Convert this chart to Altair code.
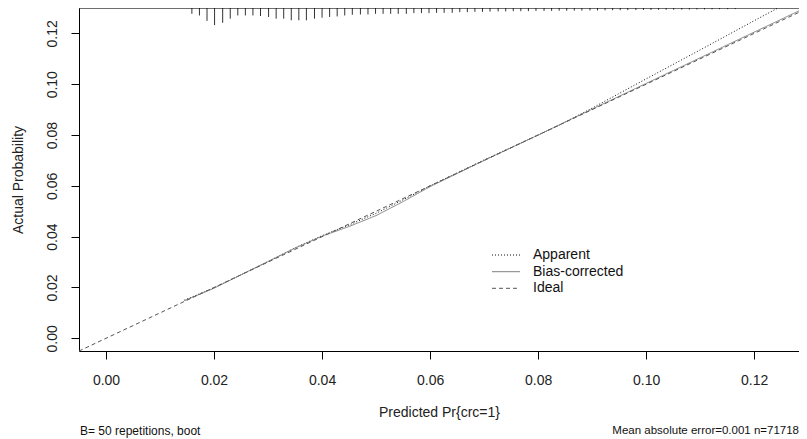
import altair as alt
import pandas as pd

# ---- data ----
ideal_x = [-0.005, 0.13]
ideal_y = [-0.005, 0.13]

apparent_x = [0.0145, 0.02, 0.025, 0.03, 0.035, 0.04, 0.045, 0.05, 0.055, 0.06, 0.07, 0.08, 0.084, 0.09, 0.10, 0.11, 0.12, 0.1244]
apparent_y = [0.0150, 0.0199, 0.0250, 0.0302, 0.0356, 0.0404, 0.0446, 0.0492, 0.0545, 0.0600, 0.0702, 0.0800, 0.0840, 0.0906, 0.1021, 0.1135, 0.1250, 0.1300]

bias_x = [0.0145, 0.02, 0.025, 0.03, 0.035, 0.04, 0.045, 0.05, 0.055, 0.06, 0.07, 0.08, 0.09, 0.10, 0.11, 0.12, 0.13]
bias_y = [0.0148, 0.0197, 0.0250, 0.0302, 0.0355, 0.0402, 0.0440, 0.0483, 0.0538, 0.0597, 0.0700, 0.0800, 0.0902, 0.1003, 0.1104, 0.1205, 0.1306]

spike_x = [0.0159, 0.0173, 0.0187, 0.0201, 0.0216, 0.0230, 0.0244, 0.0258, 0.0272, 0.0286,
           0.0301, 0.0315, 0.0329, 0.0343, 0.0357, 0.0371, 0.0386, 0.0400, 0.0414, 0.0428,
           0.0442, 0.0456, 0.0471, 0.0485, 0.0499, 0.0513, 0.0527, 0.0541, 0.0556, 0.0570,
           0.0584, 0.0598, 0.0612, 0.0626, 0.0641, 0.0655, 0.0669, 0.0683, 0.0697, 0.0711,
           0.0726, 0.0740, 0.0754, 0.0768, 0.0782, 0.0796, 0.0811, 0.0825, 0.0839, 0.0853,
           0.0867, 0.0881, 0.0896, 0.0910, 0.0924, 0.0938, 0.0952, 0.0966, 0.0981, 0.0995,
           0.1009, 0.1023, 0.1037, 0.1051, 0.1066, 0.1080, 0.1094, 0.1108, 0.1122, 0.1136,
           0.1151, 0.1165]
spike_freq = [6, 7.7, 13.3, 17.7, 15.3, 11, 7.7, 7.7, 7.7, 8.3,
              9.3, 11, 11, 12.7, 12.7, 12.7, 11, 10, 9.3, 8.7,
              7.7, 7, 6.7, 6.7, 6, 6, 6, 6, 6, 5.3,
              5.3, 5.3, 5, 5, 5, 4.3, 4.3, 4, 4, 3.7,
              3.5, 3.5, 3.3, 3.3, 3.2, 3, 3, 3, 2.8, 2.8,
              2.7, 2.7, 2.5, 2.5, 2.4, 2.3, 2.3, 2.2, 2.1, 2.0,
              2.0, 1.9, 1.8, 1.8, 1.7, 1.6, 1.5, 1.5, 1.4, 1.3,
              1.2, 1.1]

series_names = ["Apparent", "Bias-corrected", "Ideal"]
series_colors = ["#111111", "#808080", "#555555"]
series_dash = [[1, 2], [1, 0], [4, 3]]
x_ticks = [0.00, 0.02, 0.04, 0.06, 0.08, 0.10, 0.12]
y_ticks = [0.00, 0.02, 0.04, 0.06, 0.08, 0.10, 0.12]
x_title = "Predicted Pr{crc=1}"
y_title = "Actual Probability"
note_left = "B= 50 repetitions, boot"
note_right = "Mean absolute error=0.001 n=71718"

X_DOMAIN = [-0.005, 0.1283]
Y_DOMAIN = [-0.005, 0.13]
W, H = 720, 343
FONT = "Liberation Sans"

rows = []
for x, y in zip(apparent_x, apparent_y):
    rows.append({"x": x, "y": y, "series": "Apparent", "o": x})
for x, y in zip(bias_x, bias_y):
    rows.append({"x": x, "y": y, "series": "Bias-corrected", "o": x})
for x, y in zip(ideal_x, ideal_y):
    rows.append({"x": x, "y": y, "series": "Ideal", "o": x})
lines_df = pd.DataFrame(rows)

spikes_df = pd.DataFrame({"x": spike_x, "freq": spike_freq})

xscale = alt.Scale(domain=X_DOMAIN, nice=False, zero=False)
yscale = alt.Scale(domain=Y_DOMAIN, nice=False, zero=False)

xaxis = alt.Axis(values=x_ticks, format=".2f", title=x_title, grid=False,
                 domainColor="black", tickColor="black", tickSize=8,
                 labelFont=FONT, labelFontSize=14, labelColor="#222",
                 labelPadding=14, titleFont=FONT, titleFontSize=14,
                 titleFontWeight="normal", titleColor="#222", titlePadding=18)
yaxis = alt.Axis(values=y_ticks, format=".2f", title=y_title, grid=False,
                 domainColor="black", tickColor="black", tickSize=8,
                 labelAngle=270, labelAlign="center", labelBaseline="bottom",
                 labelFont=FONT, labelFontSize=14, labelColor="#222",
                 labelPadding=12, titleFont=FONT, titleFontSize=14,
                 titleFontWeight="normal", titleColor="#222", titlePadding=20)

lines = alt.Chart(lines_df).mark_line(strokeWidth=1, clip=True).encode(
    x=alt.X("x:Q", scale=xscale, axis=xaxis),
    y=alt.Y("y:Q", scale=yscale, axis=yaxis),
    order="o:Q",
    color=alt.Color("series:N", scale=alt.Scale(domain=series_names, range=series_colors),
                    legend=None),
    strokeDash=alt.StrokeDash("series:N", scale=alt.Scale(domain=series_names, range=series_dash),
                              legend=None),
)

spikes = alt.Chart(spikes_df).transform_joinaggregate(
    fmax="max(freq)"
).transform_calculate(
    top=str(Y_DOMAIN[1]),
    bottom=f"{Y_DOMAIN[1]} - datum.freq / datum.fmax * 0.05 * {Y_DOMAIN[1] - Y_DOMAIN[0]}"
).mark_rule(color="#333", strokeWidth=1).encode(
    x=alt.X("x:Q", scale=xscale),
    y=alt.Y("top:Q", scale=yscale),
    y2="bottom:Q",
)

one = pd.DataFrame({"a": [0]})
top_border = alt.Chart(one).mark_rule(color="black", strokeWidth=1).encode(
    x=alt.value(0), x2=alt.value(W), y=alt.value(0)
)

# manual legend (inside the plot, like R's legend())
legend_layers = []
LEG_X0, LEG_X1, LEG_TX = 413, 441, 454
LEG_Y = [247, 263.7, 280.3]
for name, col, dash, ly in zip(series_names, series_colors, series_dash, LEG_Y):
    legend_layers.append(
        alt.Chart(one).mark_rule(color=col, strokeWidth=1, strokeDash=dash).encode(
            x=alt.value(LEG_X0), x2=alt.value(LEG_X1), y=alt.value(ly))
    )
    legend_layers.append(
        alt.Chart(pd.DataFrame({"t": [name]})).mark_text(
            font=FONT, fontSize=14, align="left", baseline="middle", color="#111"
        ).encode(text="t:N", x=alt.value(LEG_TX), y=alt.value(ly))
    )

txt_left = alt.Chart(pd.DataFrame({"t": [note_left]})).mark_text(
    font=FONT, fontSize=12, align="left", baseline="middle", color="#111"
).encode(text="t:N", x=alt.value(1), y=alt.value(H + 80))

txt_right = alt.Chart(pd.DataFrame({"t": [note_right]})).mark_text(
    font=FONT, fontSize=11.5, align="right", baseline="middle", color="#111"
).encode(text="t:N", x=alt.value(W), y=alt.value(H + 80))

chart = alt.layer(lines, spikes, top_border, *legend_layers, txt_left, txt_right).properties(
    width=W, height=H,
    autosize=alt.AutoSizeParams(type="none"),
    padding={"left": 71, "top": 0, "right": 0, "bottom": 87},
).configure_view(stroke=None).configure(background="white")

chart.save("out.html", embed_options={"renderer": "svg", "actions": False})
